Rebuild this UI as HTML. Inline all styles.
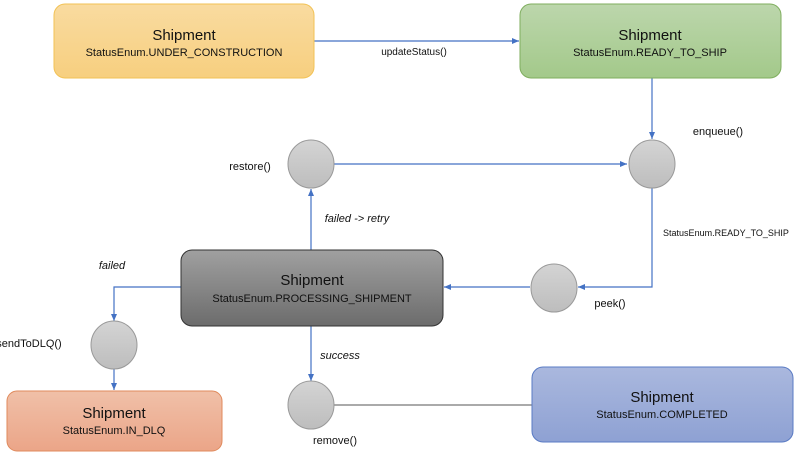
<!DOCTYPE html>
<html><head><meta charset="utf-8"><style>
body{margin:0;background:#fff;width:800px;height:454px;overflow:hidden;font-family:"Liberation Sans",sans-serif}
</style></head><body>
<svg width="800" height="454" viewBox="0 0 800 454" xmlns="http://www.w3.org/2000/svg" font-family="Liberation Sans, sans-serif">
<defs>
<linearGradient id="gy" x1="0" y1="0" x2="0" y2="1"><stop offset="0" stop-color="#f9dba0"/><stop offset="1" stop-color="#f7cf7f"/></linearGradient>
<linearGradient id="gg" x1="0" y1="0" x2="0" y2="1"><stop offset="0" stop-color="#bcd6ac"/><stop offset="1" stop-color="#a3c98a"/></linearGradient>
<linearGradient id="gd" x1="0" y1="0" x2="0" y2="1"><stop offset="0" stop-color="#a0a0a0"/><stop offset="1" stop-color="#6c6c6c"/></linearGradient>
<linearGradient id="go" x1="0" y1="0" x2="0" y2="1"><stop offset="0" stop-color="#f0c0a8"/><stop offset="1" stop-color="#eba588"/></linearGradient>
<linearGradient id="gb" x1="0" y1="0" x2="0" y2="1"><stop offset="0" stop-color="#aab8de"/><stop offset="1" stop-color="#8ea1d3"/></linearGradient>
<linearGradient id="gc" x1="0" y1="0" x2="0" y2="1"><stop offset="0" stop-color="#d4d4d4"/><stop offset="1" stop-color="#bdbdbd"/></linearGradient>
<marker id="a" markerWidth="8" markerHeight="8" refX="7" refY="4" orient="auto" markerUnits="userSpaceOnUse"><path d="M0,1 L7,4 L0,7z" fill="#4472c4"/></marker>
</defs>
<g stroke="#4472c4" stroke-width="1.2" fill="none">
<path d="M314,41 H519" marker-end="url(#a)"/>
<path d="M652,78 V139" marker-end="url(#a)"/>
<path d="M334,164 H627" marker-end="url(#a)"/>
<path d="M652,188 V287 H578" marker-end="url(#a)"/>
<path d="M530,287 H444" marker-end="url(#a)"/>
<path d="M311,250 V189" marker-end="url(#a)"/>
<path d="M181,287 H114 V321" marker-end="url(#a)"/>
<path d="M114,369 V390" marker-end="url(#a)"/>
<path d="M311,326 V381" marker-end="url(#a)"/>
<path d="M334,405 H532" stroke="#555" stroke-width="1"/>
</g>
<rect x="54" y="4" width="260" height="74" rx="11" fill="url(#gy)" stroke="#f2c255"/>
<rect x="520" y="4" width="261" height="74" rx="11" fill="url(#gg)" stroke="#7fae5e"/>
<rect x="181" y="250" width="262" height="76" rx="11" fill="url(#gd)" stroke="#333"/>
<rect x="7" y="391" width="215" height="60" rx="10" fill="url(#go)" stroke="#e08a5c"/>
<rect x="532" y="367" width="261" height="75" rx="11" fill="url(#gb)" stroke="#5a7bc4"/>
<g fill="url(#gc)" stroke="#999">
<ellipse cx="311" cy="164" rx="23" ry="24"/>
<ellipse cx="652" cy="164" rx="23" ry="24"/>
<ellipse cx="554" cy="288" rx="23" ry="24"/>
<ellipse cx="114" cy="345" rx="23" ry="24"/>
<ellipse cx="311" cy="405" rx="23" ry="24"/>
</g>
<g text-anchor="middle" fill="#111">
<text x="184" y="40" font-size="15">Shipment</text>
<text x="184" y="56" font-size="11">StatusEnum.UNDER_CONSTRUCTION</text>
<text x="650" y="40" font-size="15">Shipment</text>
<text x="650" y="56" font-size="11">StatusEnum.READY_TO_SHIP</text>
<text x="312" y="285" font-size="15">Shipment</text>
<text x="312" y="302" font-size="11">StatusEnum.PROCESSING_SHIPMENT</text>
<text x="114" y="418" font-size="15">Shipment</text>
<text x="114" y="434" font-size="11">StatusEnum.IN_DLQ</text>
<text x="662" y="402" font-size="15">Shipment</text>
<text x="662" y="418" font-size="11">StatusEnum.COMPLETED</text>
<text x="414" y="55" font-size="10">updateStatus()</text>
<text x="718" y="135" font-size="11">enqueue()</text>
<text x="250" y="170" font-size="11">restore()</text>
<text x="357" y="222" font-size="11" font-style="italic">failed -&gt; retry</text>
<text x="726" y="236" font-size="9">StatusEnum.READY_TO_SHIP</text>
<text x="610" y="307" font-size="11">peek()</text>
<text x="112" y="269" font-size="11" font-style="italic">failed</text>
<text x="29" y="347" font-size="11">sendToDLQ()</text>
<text x="340" y="359" font-size="11" font-style="italic">success</text>
<text x="335" y="444" font-size="11">remove()</text>
</g>
</svg>
</body></html>
